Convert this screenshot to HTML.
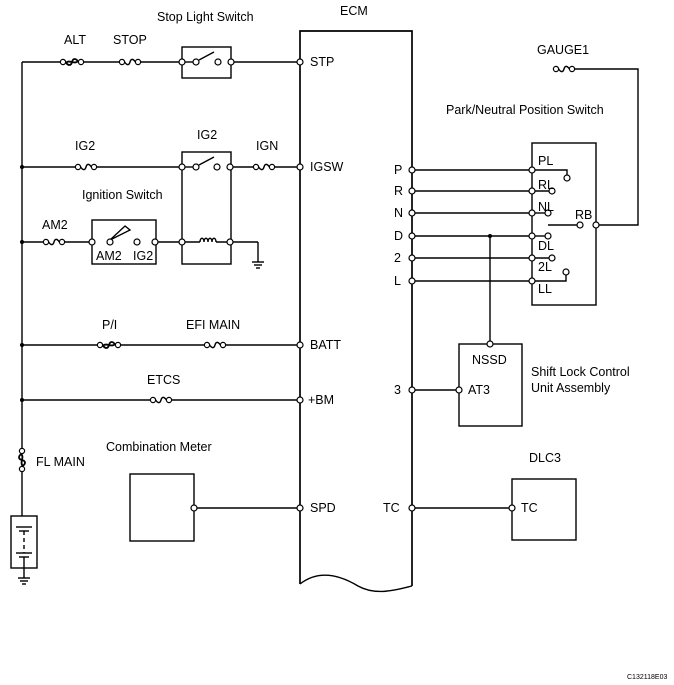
<!DOCTYPE html>
<html><head><meta charset="utf-8"><style>
html,body{margin:0;padding:0;background:#fff}
svg{display:block}
text{font-family:"Liberation Sans",sans-serif;font-size:12.5px;fill:#000}
</style></head><body>
<svg width="674" height="685" viewBox="0 0 674 685" xmlns="http://www.w3.org/2000/svg">
<defs>
<g id="fuse"><rect x="-5.5" y="-3.5" width="11" height="7" fill="#fff"/><circle cx="-8" cy="0" r="2.6" fill="#fff" stroke="#000" stroke-width="1.2"/><circle cx="8" cy="0" r="2.6" fill="#fff" stroke="#000" stroke-width="1.2"/><path d="M-5.4,0 C-3,3.5 -1,3.5 0,0 C1,-3.5 3,-3.5 5.4,0" fill="none" stroke="#000" stroke-width="1.4"/></g>
<g id="link"><rect x="-6.5" y="-4.5" width="13" height="9" fill="#fff"/><circle cx="-9" cy="0" r="2.6" fill="#fff" stroke="#000" stroke-width="1.2"/><circle cx="9" cy="0" r="2.6" fill="#fff" stroke="#000" stroke-width="1.2"/><path d="M-6.4,0 C-4,4 -1,4 0,0 C1,-4 4,-4 6.4,0 M-6,1 C-3,-3 3,3 6,-1" fill="none" stroke="#000" stroke-width="1.8"/></g>
</defs>
<g stroke="#000" stroke-width="1.4" fill="none">
<line x1="22" y1="62" x2="22" y2="449"/>
<line x1="22" y1="471" x2="22" y2="516"/>
<line x1="22" y1="62" x2="182" y2="62"/>
<line x1="231" y1="62" x2="300" y2="62"/>
<rect x="182" y="47" width="49" height="31"/>
<line x1="199" y1="60" x2="214" y2="52"/>
<line x1="182" y1="62" x2="196" y2="62"/>
<line x1="22" y1="167" x2="182" y2="167"/>
<line x1="230" y1="167" x2="300" y2="167"/>
<rect x="182" y="152" width="49" height="112"/>
<line x1="199" y1="165" x2="214" y2="157"/>
<line x1="182" y1="167" x2="196" y2="167"/>
<line x1="22" y1="242" x2="92" y2="242"/>
<rect x="92" y="220" width="64" height="44"/>
<path d="M110,240 L125,226 L130,230 Z"/>
<line x1="156" y1="242" x2="182" y2="242"/>
<line x1="182" y1="242" x2="200" y2="242"/>
<path d="M200,242 c0,-5 4,-5 4,0 c0,-5 4,-5 4,0 c0,-5 4,-5 4,0 c0,-5 4,-5 4,0"/>
<line x1="216" y1="242" x2="258" y2="242"/>
<line x1="258" y1="242" x2="258" y2="262"/>
<line x1="252" y1="262" x2="264" y2="262"/><line x1="254" y1="265" x2="262" y2="265"/><line x1="256" y1="268" x2="260" y2="268"/>
<line x1="22" y1="345" x2="300" y2="345"/>
<line x1="22" y1="400" x2="300" y2="400"/>
<rect x="11" y="516" width="26" height="52"/>
<line x1="16" y1="527" x2="32" y2="527"/><line x1="19" y1="531" x2="29" y2="531"/>
<line x1="24" y1="531" x2="24" y2="553" stroke-dasharray="4,3"/>
<line x1="16" y1="553" x2="32" y2="553"/><line x1="19" y1="557" x2="29" y2="557"/>
<line x1="24" y1="557" x2="24" y2="578"/>
<line x1="18" y1="578" x2="30" y2="578"/><line x1="20" y1="581" x2="28" y2="581"/><line x1="22" y1="584" x2="26" y2="584"/>
<rect x="130" y="474" width="64" height="67"/>
<line x1="194" y1="508" x2="300" y2="508"/>
<path d="M300,584 L300,31 L412,31 L412,586" stroke-width="1.7"/>
<path d="M300,584 C318,570 338,574 358,586 C376,596 396,590 412,586"/>
<line x1="412" y1="170" x2="532" y2="170"/>
<line x1="412" y1="191" x2="532" y2="191"/>
<line x1="412" y1="213" x2="532" y2="213"/>
<line x1="412" y1="236" x2="532" y2="236"/>
<line x1="412" y1="258" x2="532" y2="258"/>
<line x1="412" y1="281" x2="532" y2="281"/>
<rect x="532" y="143" width="64" height="162"/>
<path d="M532,170 L567,170 L567,175"/>
<line x1="532" y1="191" x2="549" y2="191"/>
<line x1="532" y1="213" x2="545" y2="213"/>
<line x1="532" y1="236" x2="545" y2="236"/>
<line x1="532" y1="258" x2="549" y2="258"/>
<path d="M532,281 L566,281 L566,275"/>
<line x1="548" y1="225" x2="577" y2="225"/>
<path d="M596,225 L638,225 L638,69 L572,69"/>
<line x1="490" y1="236" x2="490" y2="344"/>
<rect x="459" y="344" width="63" height="82"/>
<line x1="412" y1="390" x2="459" y2="390"/>
<rect x="512" y="479" width="64" height="61"/>
<line x1="412" y1="508" x2="512" y2="508"/>
</g>
<use href="#link" x="72" y="62"/>
<use href="#fuse" x="130" y="62"/>
<use href="#fuse" x="86" y="167"/>
<use href="#fuse" x="264" y="167"/>
<use href="#fuse" x="54" y="242"/>
<use href="#link" x="109" y="345"/>
<use href="#fuse" x="215" y="345"/>
<use href="#fuse" x="161" y="400"/>
<use href="#link" x="0" y="0" transform="translate(22,460) rotate(90)"/>
<use href="#fuse" x="564" y="69"/>
<g fill="#fff" stroke="#000" stroke-width="1.2">
<circle cx="182" cy="62" r="3"/><circle cx="196" cy="62" r="3"/><circle cx="218" cy="62" r="3"/><circle cx="231" cy="62" r="3"/><circle cx="300" cy="62" r="3"/>
<circle cx="182" cy="167" r="3"/><circle cx="196" cy="167" r="3"/><circle cx="217" cy="167" r="3"/><circle cx="230" cy="167" r="3"/><circle cx="300" cy="167" r="3"/>
<circle cx="92" cy="242" r="3"/><circle cx="110" cy="242" r="3"/><circle cx="137" cy="242" r="3"/><circle cx="155" cy="242" r="3"/>
<circle cx="182" cy="242" r="3"/><circle cx="230" cy="242" r="3"/>
<circle cx="300" cy="345" r="3"/><circle cx="300" cy="400" r="3"/><circle cx="300" cy="508" r="3"/><circle cx="194" cy="508" r="3"/>
<circle cx="412" cy="170" r="3"/><circle cx="412" cy="191" r="3"/><circle cx="412" cy="213" r="3"/><circle cx="412" cy="236" r="3"/><circle cx="412" cy="258" r="3"/><circle cx="412" cy="281" r="3"/>
<circle cx="532" cy="170" r="3"/><circle cx="532" cy="191" r="3"/><circle cx="532" cy="213" r="3"/><circle cx="532" cy="236" r="3"/><circle cx="532" cy="258" r="3"/><circle cx="532" cy="281" r="3"/>
<circle cx="567" cy="178" r="3"/><circle cx="552" cy="191" r="3"/><circle cx="548" cy="213" r="3"/><circle cx="548" cy="236" r="3"/><circle cx="552" cy="258" r="3"/><circle cx="566" cy="272" r="3"/>
<circle cx="580" cy="225" r="3"/><circle cx="596" cy="225" r="3"/>
<circle cx="490" cy="344" r="3"/><circle cx="459" cy="390" r="3"/><circle cx="412" cy="390" r="3"/>
<circle cx="412" cy="508" r="3"/><circle cx="512" cy="508" r="3"/>
</g>
<g fill="#000"><circle cx="22" cy="167" r="2"/><circle cx="22" cy="242" r="2"/><circle cx="22" cy="345" r="2"/><circle cx="22" cy="400" r="2"/><circle cx="490" cy="236" r="2"/></g>
<text x="157" y="21">Stop Light Switch</text>
<text x="340" y="15">ECM</text>
<text x="64" y="44">ALT</text>
<text x="113" y="44">STOP</text>
<text x="310" y="66">STP</text>
<text x="75" y="150">IG2</text>
<text x="197" y="139">IG2</text>
<text x="256" y="150">IGN</text>
<text x="310" y="171">IGSW</text>
<text x="82" y="199">Ignition Switch</text>
<text x="42" y="229">AM2</text>
<text x="96" y="260">AM2</text>
<text x="133" y="260">IG2</text>
<text x="102" y="329">P/I</text>
<text x="186" y="329">EFI MAIN</text>
<text x="310" y="349">BATT</text>
<text x="147" y="384">ETCS</text>
<text x="308" y="404">+BM</text>
<text x="106" y="451">Combination Meter</text>
<text x="36" y="466">FL MAIN</text>
<text x="310" y="512">SPD</text>
<text x="537" y="54">GAUGE1</text>
<text x="446" y="114">Park/Neutral Position Switch</text>
<text x="394" y="174">P</text><text x="394" y="195">R</text><text x="394" y="217">N</text><text x="394" y="240">D</text><text x="394" y="262">2</text><text x="394" y="285">L</text>
<text x="538" y="165">PL</text><text x="538" y="189">RL</text><text x="538" y="211">NL</text><text x="538" y="250">DL</text><text x="538" y="271">2L</text><text x="538" y="293">LL</text>
<text x="575" y="219">RB</text>
<text x="472" y="364">NSSD</text>
<text x="468" y="394">AT3</text>
<text x="394" y="394">3</text>
<text x="531" y="376">Shift Lock Control</text>
<text x="531" y="392">Unit Assembly</text>
<text x="529" y="462">DLC3</text>
<text x="383" y="512">TC</text>
<text x="521" y="512">TC</text>
<text x="627" y="679" style="font-size:7px">C132118E03</text>
</svg>
</body></html>
